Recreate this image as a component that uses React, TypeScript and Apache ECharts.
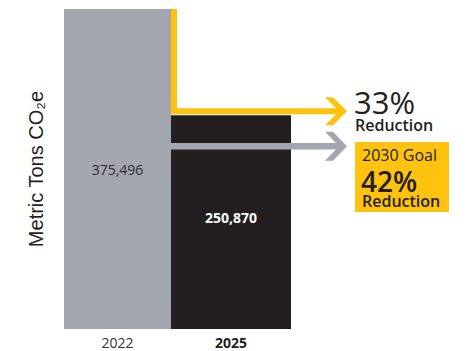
import React, { useEffect, useRef } from 'react';
import * as echarts from 'echarts';

// ---- data ----
const categories = ['2022', '2025'];
const emissions = [375496, 250870];
const currentLevel = 255500; // level of the yellow "33%" arrow
const goalLevel = 214500; // level of the grey "2030 goal" arrow
const yAxisName = 'Metric Tons CO₂e';
const reductionLabel = ['33%', 'Reduction'];
const goalLabel = ['2030 Goal', '42%', 'Reduction'];

// ---- styles ----
const BAR_COLORS = ['#a3a5af', '#231f20'];
const BAR_WIDTHS = [107, 120];
const LABEL_COLORS = ['#2e2e30', '#ffffff'];
const LABEL_WEIGHTS = ['normal', 'bold'];
const LABEL_DY = [0, -5];
const YELLOW = '#ffc20e';
const GREY = '#a3a5af';
const DARK = '#231f20';
const FONT = '"Open Sans", "Noto Sans", sans-serif';

const fmt = (v: number) => v.toLocaleString('en-US');

export default function App() {
  const ref = useRef<HTMLDivElement>(null);

  useEffect(() => {
    if (!ref.current) return;
    const chart = echarts.init(ref.current, null, { renderer: 'svg' });
    chart.setOption({
      animation: false,
      grid: { left: 60.75, top: 9, width: 227, height: 320 },
      xAxis: {
        type: 'category',
        data: categories,
        axisLine: { show: false },
        axisTick: { show: false },
        axisLabel: {
          margin: 6,
          formatter: (v: string) => (v === categories[1] ? `{b|${v}}` : `{n|${v}}`),
          rich: {
            n: { fontFamily: FONT, fontSize: 14, color: '#333333' },
            b: { fontFamily: FONT, fontSize: 14, color: '#231f20', fontWeight: 'bold' },
          },
        },
      },
      yAxis: {
        type: 'value',
        min: 0,
        max: emissions[0],
        axisLine: { show: false },
        axisTick: { show: false },
        axisLabel: { show: false },
        splitLine: { show: false },
        name: yAxisName,
        nameLocation: 'middle',
        nameRotate: 90,
        nameGap: 15,
        nameTextStyle: {
          fontFamily: '"Liberation Sans", Arial, sans-serif',
          fontSize: 20,
          color: DARK,
        },
      },
      series: [
        {
          type: 'custom',
          z: 2,
          data: emissions.map((v, i) => [i, v]),
          renderItem: (params: any, api: any) => {
            const idx = params.dataIndex;
            const top = api.coord([api.value(0), api.value(1)]);
            const base = api.coord([api.value(0), 0]);
            const w = BAR_WIDTHS[idx];
            return {
              type: 'group',
              children: [
                {
                  type: 'rect',
                  shape: { x: top[0] - w / 2, y: top[1], width: w, height: base[1] - top[1] },
                  style: { fill: BAR_COLORS[idx] },
                },
                {
                  type: 'text',
                  x: top[0],
                  y: (top[1] + base[1]) / 2 + LABEL_DY[idx],
                  style: {
                    text: fmt(api.value(1)),
                    fill: LABEL_COLORS[idx],
                    fontFamily: FONT,
                    fontSize: 14,
                    fontWeight: LABEL_WEIGHTS[idx],
                    align: 'center',
                    verticalAlign: 'middle',
                  },
                },
              ],
            };
          },
        },
      ],
    });

    const py = (v: number) => chart.convertToPixel({ yAxisIndex: 0 }, v) as number;
    const xCenter0 = chart.convertToPixel({ xAxisIndex: 0 }, categories[0]) as number;
    const xEdge = xCenter0 + BAR_WIDTHS[0] / 2;
    const yTop = py(emissions[0]);
    const yCur = py(currentLevel);
    const yGoal = py(goalLevel);
    const tipX = 347;

    const chevron = (c: number, h: number) => [
      [tipX - 22, c - h],
      [tipX - 14, c - h],
      [tipX, c],
      [tipX - 14, c + h],
      [tipX - 22, c + h],
      [tipX - 8, c],
    ];

    const rs = (size: number, weight: any, lh: number) => ({
      fontFamily: FONT,
      fontSize: size,
      fontWeight: weight,
      lineHeight: lh,
      fill: DARK,
      color: DARK,
    });

    chart.setOption({
      graphic: [
        {
          type: 'polyline',
          z: 100,
          shape: { points: [[xEdge + 3, yTop], [xEdge + 3, yCur], [tipX - 6, yCur]] },
          style: { stroke: YELLOW, lineWidth: 6, fill: 'none', lineJoin: 'miter', lineCap: 'butt' },
        },
        { type: 'polygon', z: 100, shape: { points: chevron(yCur, 14) }, style: { fill: YELLOW } },
        {
          type: 'line',
          z: 100,
          shape: { x1: xEdge, y1: yGoal, x2: tipX - 6, y2: yGoal },
          style: { stroke: GREY, lineWidth: 6.5 },
        },
        { type: 'polygon', z: 100, shape: { points: chevron(yGoal, 14.5) }, style: { fill: GREY } },
        {
          type: 'text',
          z: 100,
          x: 354,
          y: 87.5,
          style: {
            text: `{a|${reductionLabel[0]}}\n{b|${reductionLabel[1]}}`,
            align: 'left',
            verticalAlign: 'top',
            fill: DARK,
            rich: {
              a: rs(31, 'normal', 28),
              b: { ...rs(16, 600, 18), padding: [0, 0, 0, 1] },
            },
          },
        },
        { type: 'rect', z: 99, shape: { x: 355, y: 142, width: 94, height: 70 }, style: { fill: YELLOW } },
        {
          type: 'text',
          z: 100,
          x: 362,
          y: 145,
          style: {
            text: `{a|${goalLabel[0]}}\n{b|${goalLabel[1]}}\n{c|${goalLabel[2]}}`,
            align: 'left',
            verticalAlign: 'top',
            fill: DARK,
            rich: {
              a: rs(16, 500, 20),
              b: { ...rs(28, 600, 31), padding: [0, 0, 0, -1] },
              c: rs(16, 600, 10),
            },
          },
        },
      ],
    });

    return () => chart.dispose();
  }, []);

  return (
    <div
      ref={ref}
      style={{ position: 'fixed', left: 0, top: 0, width: 469, height: 351, background: '#ffffff' }}
    />
  );
}
